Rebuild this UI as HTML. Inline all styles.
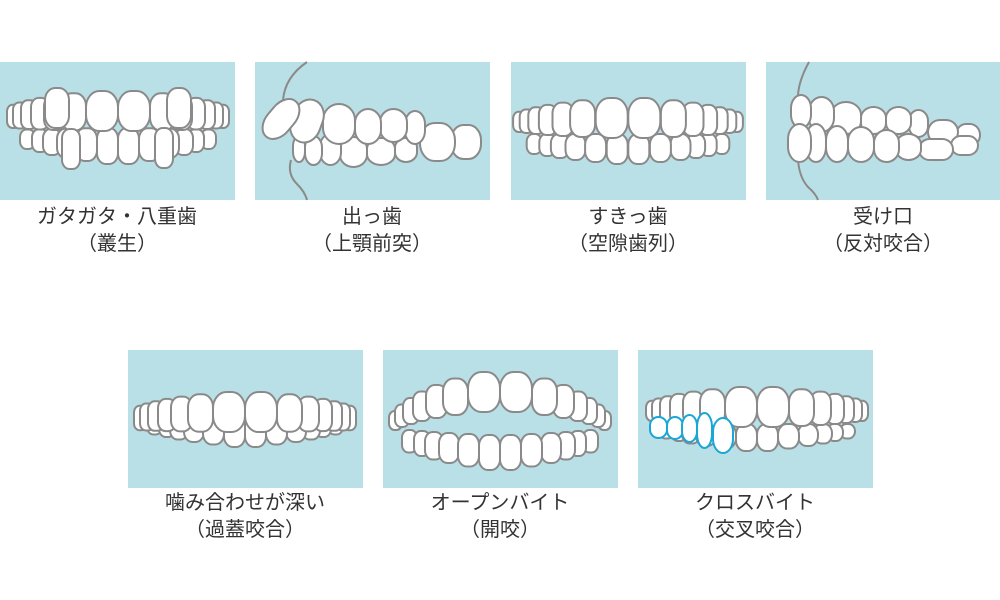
<!DOCTYPE html>
<html><head><meta charset="utf-8"><style>
body{margin:0;width:1000px;height:600px;background:#fff;overflow:hidden;position:relative;font-family:"Liberation Sans","Noto Sans CJK JP",sans-serif;}
.lab{position:absolute;width:260px;text-align:center;color:#333;font-size:20px;line-height:27px;}
svg{position:absolute;left:0;top:0}
</style></head><body>
<svg id="s" width="1000" height="600" xmlns="http://www.w3.org/2000/svg"></svg>
<div class="lab" style="left:-13px;top:204px">ガタガタ・八重歯<br>（叢生）</div>
<div class="lab" style="left:242px;top:204px">出っ歯<br>（上顎前突）</div>
<div class="lab" style="left:498px;top:204px">すきっ歯<br>（空隙歯列）</div>
<div class="lab" style="left:753px;top:204px">受け口<br>（反対咬合）</div>
<div class="lab" style="left:115px;top:490px">噛み合わせが深い<br>（過蓋咬合）</div>
<div class="lab" style="left:370px;top:490px">オープンバイト<br>（開咬）</div>
<div class="lab" style="left:625px;top:490px">クロスバイト<br>（交叉咬合）</div>
<script>
var s=document.getElementById('s'),h='';
function P(x,y){h+='<rect x="'+x+'" y="'+y+'" width="235" height="138" fill="#b9e0e6"/>';}
[[0,62],[255,62],[511,62],[766,62],[128,350],[383,350],[638,350]].forEach(function(p){P(p[0],p[1]);});
function T(x,y,w,hh,col,round){var r=round?w/2:Math.min(w*0.42,hh/2);var ry=round?hh/2*0.8:r*1.2;h+='<rect x="'+x.toFixed(1)+'" y="'+y.toFixed(1)+'" width="'+w.toFixed(1)+'" height="'+hh.toFixed(1)+'" rx="'+r.toFixed(1)+'" ry="'+Math.min(ry,hh/2).toFixed(1)+'" fill="#fff" stroke="'+(col||'#8a8a8a')+'" stroke-width="2"/>';}
var UP=[0,32,53,69,81,91,98],UW=[32,25,21,18,16,14,13];
var LP=[0,21,41,57,70,83],LW=[21,21,20,18,16,15];
function arch(cx,uy,ly,o){
 var g=o.g||0,a=o.a,b=o.b,c=o.c,d=o.d,lb=o.lb||36;
 for(var i=5;i>=0;i--){var t=ly+c*i,bt=ly+lb+d*i,x=LP[i]+g*(i+0.5);
  T(cx+x,t,LW[i],bt-t);T(cx-x-LW[i],t,LW[i],bt-t);}
 for(var i=6;i>=0;i--){var t=uy-40+a*i,bt=uy+b*i,x=UP[i]+g*(i+0.5);
  T(cx+x,t,UW[i],bt-t);T(cx-x-UW[i],t,UW[i],bt-t);}
}
arch(118,131,128,{a:2.3,b:-0.5,c:0.3,d:-3});
T(45,88,24,40);T(167,88,24,40);T(62,129,18,40);T(155,128,18,40);
arch(628,138,134,{g:0.6,a:2.3,b:-1,c:0,d:-2,lb:30});
arch(245,432,412,{a:2.3,b:-0.3,c:0,d:-2.5,lb:35});
arch(500,412,435,{a:6.5,b:3,c:-1,d:-3.5,lb:35});
arch(757,427,424,{a:2.3,b:-1,c:0,d:-2.5,lb:27});
[[650,417,17,21],[667,417,16,22],[682,415,15,27],[697,413,15,35],[713,418,20,35]].forEach(function(t){T(t[0],t[1],t[2],t[3],'#1aa6d6',true);});
function R(x0,y0,a){for(var i=0;i<a.length;i++){var t=a[i],w=t[1]-t[0],hh=t[3]-t[2];
 var x=x0+t[0],y=y0+t[2];
 if(t[4]){h+='<g transform="rotate('+t[4]+' '+(x+w/2)+' '+(y+hh/2)+')">';}
 T(x,y,w,hh,null,!t[5]);
 if(t[4])h+='</g>';}}
var X=255,Y=62;
h+='<path d="M'+(X+52)+' '+Y+' Q'+(X+30)+' '+(Y+15)+' '+(X+28)+' '+(Y+38)+'" fill="none" stroke="#8a8a8a" stroke-width="2"/>';
h+='<path d="M'+(X+36)+' '+(Y+98)+' Q'+(X+32)+' '+(Y+112)+' '+(X+42)+' '+(Y+122)+' Q'+(X+50)+' '+(Y+130)+' '+(X+52)+' '+(Y+138)+'" fill="none" stroke="#8a8a8a" stroke-width="2"/>';
R(X,Y,[[196,226,63,97,0,1],[165,200,61,99,0,1],[140,162,76,100],[112,140,76,103],[85,112,75,105],[65,86,72,103],[50,67,74,103],[38,50,74,100]]);
R(X,Y,[[150,170,49,82],[125,152,47,80],[100,126,47,82],[68,100,42,82],[37,67,37,81,20],[13,39,34,80,40]]);
X=766;
h+='<path d="M'+(X+43)+' '+Y+' Q'+(X+33)+' '+(Y+18)+' '+(X+32)+' '+(Y+33)+'" fill="none" stroke="#8a8a8a" stroke-width="2"/>';
h+='<path d="M'+(X+32)+' '+(Y+97)+' Q'+(X+33)+' '+(Y+115)+' '+(X+42)+' '+(Y+125)+' Q'+(X+50)+' '+(Y+132)+' '+(X+52)+' '+(Y+138)+'" fill="none" stroke="#8a8a8a" stroke-width="2"/>';
R(X,Y,[[190,214,62,84,0,1],[162,192,58,82,0,1],[143,162,48,75],[120,145,45,72],[95,120,45,72],[65,95,40,72],[43,68,35,70],[25,45,33,66]]);
R(X,Y,[[185,212,74,93,0,1],[153,187,77,98,0,1],[130,155,72,98],[108,133,68,100],[82,108,65,100],[60,82,64,100],[40,60,62,100],[22,45,62,100]]);
s.innerHTML=h;
</script>
</body></html>
